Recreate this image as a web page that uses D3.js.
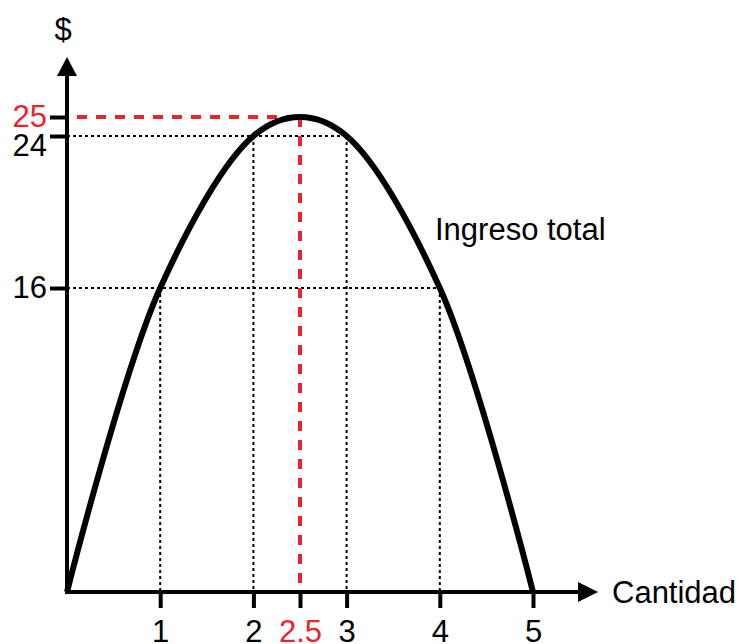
<!DOCTYPE html>
<html>
<head>
<meta charset="utf-8">
<script src="https://cdn.jsdelivr.net/npm/d3@7"></script>
<style>
  body { margin: 0; background: #fff; }
  text { font-family: "Liberation Sans", Arial, sans-serif; }
</style>
</head>
<body>
<svg id="chart" width="743" height="644"></svg>
<script>
const quantity = [0, 1, 2, 2.5, 3, 4, 5];
const revenue = [0, 16, 24, 25, 24, 16, 0];
const guidePoints = [1, 2, 3, 4];        // black dotted guides
const maxPoint = 2.5;                    // red dashed guide
const xTicks = [1, 2, 2.5, 3, 4, 5];
const yTicks = [16, 24, 25];

const red = '#e8242c';
const svg = d3.select('#chart');

const x = d3.scaleLinear().domain([0, 5]).range([67, 533]);
const y = d3.scaleLinear().domain([0, 25]).range([592, 117]);

const data = quantity.map((q, i) => ({ q, r: revenue[i] }));
const rOf = q => data.find(d => d.q === q).r;

// dotted guides
const guides = svg.append('g')
  .attr('stroke', '#000')
  .attr('stroke-width', 2)
  .attr('stroke-dasharray', '3,3');

guidePoints.forEach(q => {
  guides.append('line')
    .attr('x1', x(0)).attr('x2', x(q))
    .attr('y1', y(rOf(q))).attr('y2', y(rOf(q)));
  guides.append('line')
    .attr('x1', x(q)).attr('x2', x(q))
    .attr('y1', y(rOf(q))).attr('y2', y(0));
});

// red dashed guide to the maximum
const redG = svg.append('g')
  .attr('stroke', red)
  .attr('stroke-width', 4)
  .attr('stroke-dasharray', '10,9');
redG.append('line')
  .attr('x1', x(0) + 10).attr('x2', x(maxPoint))
  .attr('y1', y(rOf(maxPoint))).attr('y2', y(rOf(maxPoint)));
redG.append('line')
  .attr('x1', x(maxPoint)).attr('x2', x(maxPoint))
  .attr('y1', y(rOf(maxPoint))).attr('y2', y(0));

// curve
const line = d3.line()
  .x(d => x(d.q))
  .y(d => y(d.r))
  .curve(d3.curveCatmullRom.alpha(0.5));

svg.append('path')
  .datum(data)
  .attr('fill', 'none')
  .attr('stroke', '#000')
  .attr('stroke-width', 6)
  .attr('stroke-linejoin', 'round')
  .attr('d', line);

// axes
const xAxis = svg.append('g')
  .attr('transform', `translate(0,${y(0)})`)
  .call(d3.axisBottom(x).tickValues(xTicks).tickSize(16).tickPadding(12)
    .tickFormat(d => String(d)));

const yAxis = svg.append('g')
  .attr('transform', `translate(${x(0)},0)`)
  .call(d3.axisLeft(y).tickValues(yTicks).tickSize(17).tickPadding(3));

[xAxis, yAxis].forEach(g => {
  g.select('.domain').remove();
  g.selectAll('.tick line').attr('stroke', '#000').attr('stroke-width', 4);
  g.selectAll('.tick text')
    .attr('font-size', 31)
    .attr('font-family', '"Liberation Sans", Arial, sans-serif')
    .attr('fill', d => (d === maxPoint || d === 25) ? red : '#000');
});
yAxis.selectAll('.tick text').filter(d => d === 24).attr('dy', '0.62em');

// axis lines with arrowheads
const x0 = x(0), y0 = y(0);
svg.append('line')
  .attr('x1', x0).attr('x2', x0)
  .attr('y1', y0 + 2).attr('y2', 74)
  .attr('stroke', '#000').attr('stroke-width', 4);
svg.append('path')
  .attr('d', `M${x0},57 L${x0 - 10},76 L${x0 + 10},76 Z`)
  .attr('fill', '#000');

svg.append('line')
  .attr('x1', x0 - 2).attr('x2', 580)
  .attr('y1', y0).attr('y2', y0)
  .attr('stroke', '#000').attr('stroke-width', 4);
svg.append('path')
  .attr('d', `M598,${y0} L578,${y0 - 10} L578,${y0 + 10} Z`)
  .attr('fill', '#000');

// labels
svg.append('text')
  .attr('x', x0 - 4).attr('y', 40)
  .attr('text-anchor', 'middle')
  .attr('font-size', 31)
  .text('$');

svg.append('text')
  .attr('x', 612).attr('y', 603)
  .attr('font-size', 31)
  .text('Cantidad');

svg.append('text')
  .attr('x', 435).attr('y', 240)
  .attr('font-size', 31)
  .text('Ingreso total');
</script>
</body>
</html>
